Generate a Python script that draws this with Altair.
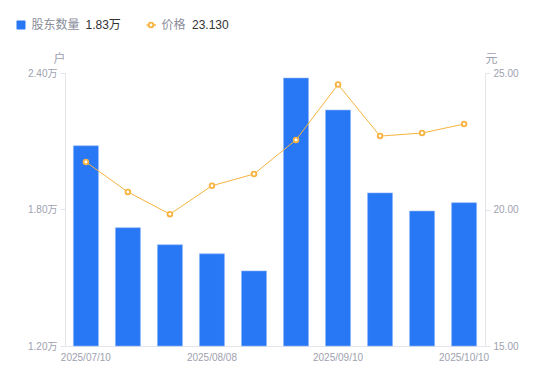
import altair as alt
import pandas as pd

dates = ["2025/07/10", "2025/07/18", "2025/07/31", "2025/08/08", "2025/08/20",
         "2025/08/29", "2025/09/10", "2025/09/19", "2025/09/30", "2025/10/10"]
holders = [2.08, 1.72, 1.645, 1.605, 1.53, 2.378, 2.237, 1.873, 1.793, 1.83]  # 万户
prices = [21.74, 20.64, 19.83, 20.87, 21.30, 22.55, 24.58, 22.69, 22.80, 23.13]
x_ticks = ["2025/07/10", "2025/08/08", "2025/09/10", "2025/10/10"]

df = pd.DataFrame({"date": dates, "holders": holders, "price": prices})

BLUE = "#2878F5"
ORANGE = "#F7B33F"
LABEL = "#9EA1B0"
AXIS = "#E3E5EB"
FONT = "Liberation Sans, Noto Sans CJK SC, sans-serif"

x_enc = alt.X("date:N", sort=dates, title=None,
              scale=alt.Scale(paddingInner=0.405, paddingOuter=0.2),
              axis=alt.Axis(values=x_ticks, labelAngle=0, ticks=False,
                            domainColor=AXIS, labelColor=LABEL, labelFontSize=10,
                            labelFont=FONT, labelPadding=6))

bars = alt.Chart(df).mark_bar(color=BLUE, stroke="#8DB6FA", strokeWidth=0.6).encode(
    x=x_enc,
    y=alt.Y("holders:Q", scale=alt.Scale(domain=[1.2, 2.4], zero=False, nice=False),
            axis=alt.Axis(values=[1.2, 1.8, 2.4], grid=False,
                          labelExpr="format(datum.value, '.2f') + '万'",
                          title="户", titleAngle=0, titleX=-6, titleY=-11,
                          titleAlign="center", titleBaseline="alphabetic",
                          titleColor=LABEL, titleFontWeight="normal", titleFontSize=12,
                          titleFont=FONT,
                          domainColor=AXIS, tickColor=AXIS, tickSize=5,
                          labelColor=LABEL, labelFontSize=10, labelFont=FONT,
                          labelPadding=3)),
    y2=alt.datum(1.2),
)

price_y = alt.Y("price:Q", scale=alt.Scale(domain=[15, 25], zero=False, nice=False),
                axis=alt.Axis(orient="right", values=[15, 20, 25], grid=False, format=".2f",
                              title="元", titleAngle=0, titleX=6, titleY=-11,
                              titleAlign="center", titleBaseline="alphabetic",
                              titleColor=LABEL, titleFontWeight="normal", titleFontSize=12,
                              titleFont=FONT,
                              domainColor=AXIS, tickColor=AXIS, tickSize=5,
                              labelColor=LABEL, labelFontSize=10, labelFont=FONT,
                              labelPadding=3))

line = alt.Chart(df).mark_line(color=ORANGE, strokeWidth=1).encode(x=alt.X("date:N", sort=dates), y=price_y)
pts = alt.Chart(df).mark_point(filled=True, fill="white", stroke=ORANGE, strokeWidth=1.8,
                               size=22, opacity=1).encode(x=alt.X("date:N", sort=dates), y=price_y)

price_layer = alt.layer(line, pts)

# legend
one = pd.DataFrame({"k": [0]})
leg_sq = alt.Chart(one).mark_rect(color=BLUE, cornerRadius=1).encode(
    x=alt.value(-48.5), x2=alt.value(-39.5), y=alt.value(-52.5), y2=alt.value(-43.5))
leg_t1 = alt.Chart(one).mark_text(align="left", baseline="middle", fontSize=12,
                                  color="#8A8D9A", font=FONT).encode(
    x=alt.value(-33.5), y=alt.value(-48), text=alt.value("股东数量"))
leg_v1 = alt.Chart(one).mark_text(align="left", baseline="middle", fontSize=12,
                                  color="#333333", font=FONT).encode(
    x=alt.value(20.5), y=alt.value(-48), text=alt.value(f"{holders[-1]:.2f}万"))
leg_ln = alt.Chart(one).mark_rule(color=ORANGE, strokeWidth=1.5).encode(
    x=alt.value(81.5), x2=alt.value(91), y=alt.value(-48))
leg_pt = alt.Chart(one).mark_point(filled=True, fill="white", stroke=ORANGE, strokeWidth=1.8,
                                   size=22, opacity=1).encode(x=alt.value(86), y=alt.value(-48))
leg_t2 = alt.Chart(one).mark_text(align="left", baseline="middle", fontSize=12,
                                  color="#8A8D9A", font=FONT).encode(
    x=alt.value(96.5), y=alt.value(-48), text=alt.value("价格"))
leg_v2 = alt.Chart(one).mark_text(align="left", baseline="middle", fontSize=12,
                                  color="#333333", font=FONT).encode(
    x=alt.value(127), y=alt.value(-48), text=alt.value(f"{prices[-1]:.3f}"))

chart = alt.layer(bars, price_layer, leg_sq, leg_t1, leg_v1, leg_ln, leg_pt, leg_t2, leg_v2).resolve_scale(
    y="independent"
).properties(
    width=420, height=273,
    autosize=alt.AutoSizeParams(type="none"),
    padding={"left": 57, "top": 65, "right": 50, "bottom": 25},
).configure_view(stroke=None)

chart.save("out.html", embed_options={"renderer": "svg", "actions": False})
